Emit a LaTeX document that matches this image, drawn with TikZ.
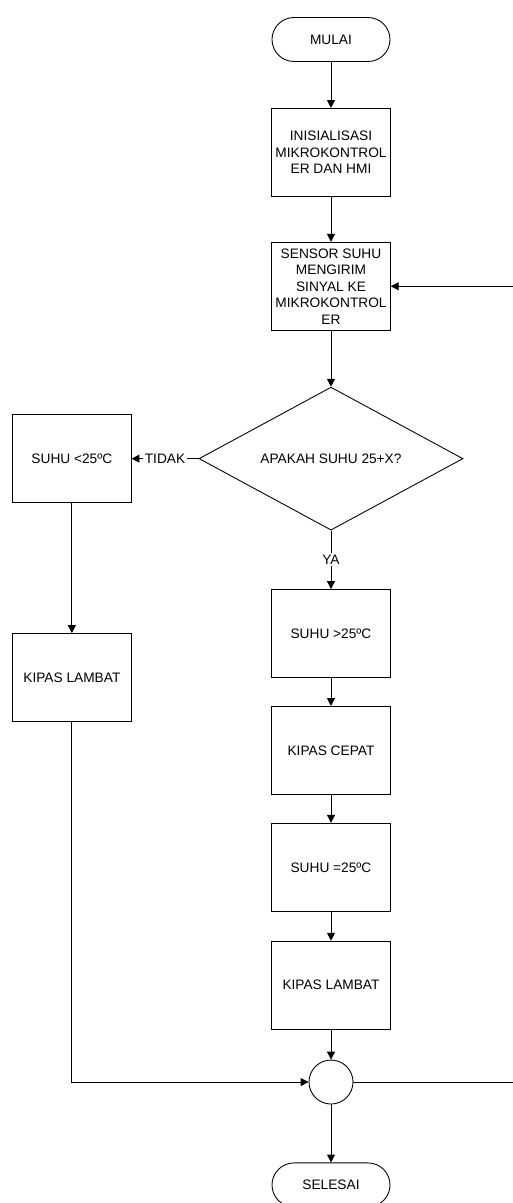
\documentclass[tikz,border=0pt]{standalone}
\usepackage{fontspec}
\setmainfont{Liberation Sans}
\usepackage{tikz}
\usetikzlibrary{shapes.geometric, arrows.meta, positioning, calc}
\tikzstyle{startstop} = [rectangle, rounded corners=0.44cm, minimum width=2.36cm, minimum height=0.88cm, text centered, draw=black]
\tikzstyle{process} = [rectangle, minimum width=2.37cm, minimum height=1.76cm, inner sep=1pt, text centered, align=center, draw=black]
\tikzstyle{decision} = [diamond, aspect=1.8, minimum width=5.28cm, minimum height=2.86cm, inner sep=0pt, text centered, draw=black]
\tikzstyle{connector} = [circle, minimum size=0.88cm, inner sep=0pt, draw=black]
\tikzstyle{arrow} = [line width=0.5pt, ->, >={Triangle[length=4.5pt, width=4.5pt]}]
\tikzstyle{label} = [fill=white, inner sep=1pt]

\begin{document}
\begin{tikzpicture}[line width=0.5pt, font=\fontsize{7.8}{9.4}\selectfont]
    \useasboundingbox (0,0) rectangle (10.26,-24.06);
    \coordinate (edge) at (10.26,0);
    % Nodes
    \node (start) [startstop] at (6.62,-0.79) {MULAI};
    \node (init) [process, below=0.92cm of start] {INISIALISASI\\MIKROKONTROL\\ER DAN HMI};
    \node (sensor) [process, below=0.9cm of init] {SENSOR SUHU\\MENGIRIM\\SINYAL KE\\MIKROKONTROL\\ER};
    \node (check) [decision, below=1.12cm of sensor] {APAKAH SUHU 25+X?};
    \node (low) [process, left=1.34cm of check] {SUHU <25ºC};
    \node (slowleft) [process, below=2.6cm of low] {KIPAS LAMBAT};
    \node (high) [process, below=1.17cm of check] {SUHU >25ºC};
    \node (fast) [process, below=0.56cm of high] {KIPAS CEPAT};
    \node (equal) [process, below=0.56cm of fast] {SUHU =25ºC};
    \node (slowright) [process, below=0.58cm of equal] {KIPAS LAMBAT};
    \node (join) [connector, below=0.6cm of slowright] {};
    \node (stop) [startstop, below=1.16cm of join] {SELESAI};

    % Arrows
    \draw [arrow] (start) -- (init);
    \draw [arrow] (init) -- (sensor);
    \draw [arrow] (sensor) -- (check);
    \draw [arrow] (check) -- node[label] {TIDAK} (low);
    \draw [arrow] (check) -- node[label] {YA} (high);
    \draw [arrow] (low) -- (slowleft);
    \draw [arrow] (high) -- (fast);
    \draw [arrow] (fast) -- (equal);
    \draw [arrow] (equal) -- (slowright);
    \draw [arrow] (slowright) -- (join);
    \draw [arrow] (slowleft) |- (join);
    \draw [arrow] (join) -- (stop);
    \draw (join) -- (join -| edge);
    \draw [arrow] (sensor -| edge) -- (sensor);
\end{tikzpicture}
\end{document}
